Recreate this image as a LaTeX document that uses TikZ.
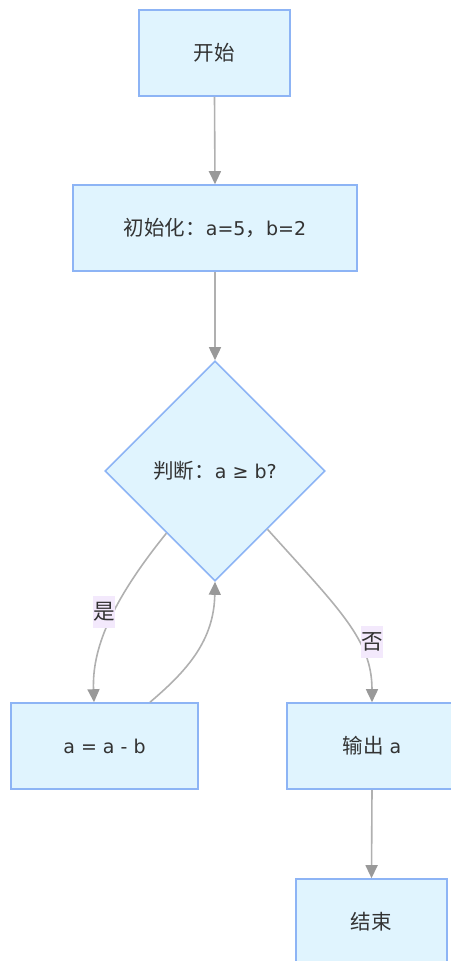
\documentclass[tikz,border=0pt]{standalone}
\usepackage{fontspec}
\setmainfont{DejaVu Sans}
\newfontfamily\cjk[Scale=1.08]{Noto Sans CJK SC}
\usetikzlibrary{shapes.geometric,arrows.meta}
\definecolor{boxfill}{HTML}{E0F4FE}
\definecolor{boxline}{HTML}{8DB4F5}
\definecolor{edgeline}{HTML}{B0B0B0}
\definecolor{tipfill}{HTML}{999999}
\definecolor{lblfill}{HTML}{F3E9FC}
\definecolor{txt}{HTML}{333333}
\tikzset{
  procbox/.style={draw=boxline,fill=boxfill,line width=1.6pt,minimum height=86pt,inner sep=0pt,text=txt,font=\fontsize{19}{23}\selectfont},
  decbox/.style={diamond,draw=boxline,fill=boxfill,line width=1.6pt,minimum width=220pt,minimum height=220pt,inner sep=0pt,text=txt,font=\fontsize{19}{23}\selectfont},
  flow/.style={draw=edgeline,line width=1.6pt,-{Triangle[width=12pt,length=13pt,fill=tipfill,color=tipfill]}},
  lbl/.style={fill=lblfill,text=txt,inner sep=0pt,minimum width=22pt,minimum height=32pt,font=\fontsize{20}{24}\selectfont\cjk}
}
\begin{document}
\begin{tikzpicture}[x=1pt,y=-1pt]
\useasboundingbox (0,0) rectangle (450,961);
\node[procbox,minimum width=151pt] (start) at (214.5,53) {\cjk 开始};
\node[procbox,minimum width=284pt] (init) at (215,228) {{\cjk 初始化：}a=5{\cjk ，}b=2};
\node[decbox] (dec) at (215,471) {{\cjk 判断：}a ≥ b?};
\node[procbox,minimum width=187pt] (sub) at (104.5,746) {a = a - b};
\node[procbox,minimum width=170pt] (out) at (372,746) {{\cjk 输出} a};
\node[procbox,minimum width=151pt] (end) at (371.5,922) {\cjk 结束};
\draw[flow] (start.south) -- (init.north);
\draw[flow] (init.south) -- (dec.north);
\draw[flow] (dec.232) .. controls (110,603) and (92,650) .. ([xshift=-10.5pt]sub.north);
\draw[flow] ([xshift=45.5pt]sub.north) .. controls (188,670) and (214,640) .. (dec.south);
\draw[flow] (dec.-48) .. controls (340,610) and (372,640) .. (out.north);
\draw[flow] (out.south) -- (end.north);
\node[lbl] (yes) at (104,612) {是};
\node[lbl] (no) at (372,642) {否};
\end{tikzpicture}
\end{document}
